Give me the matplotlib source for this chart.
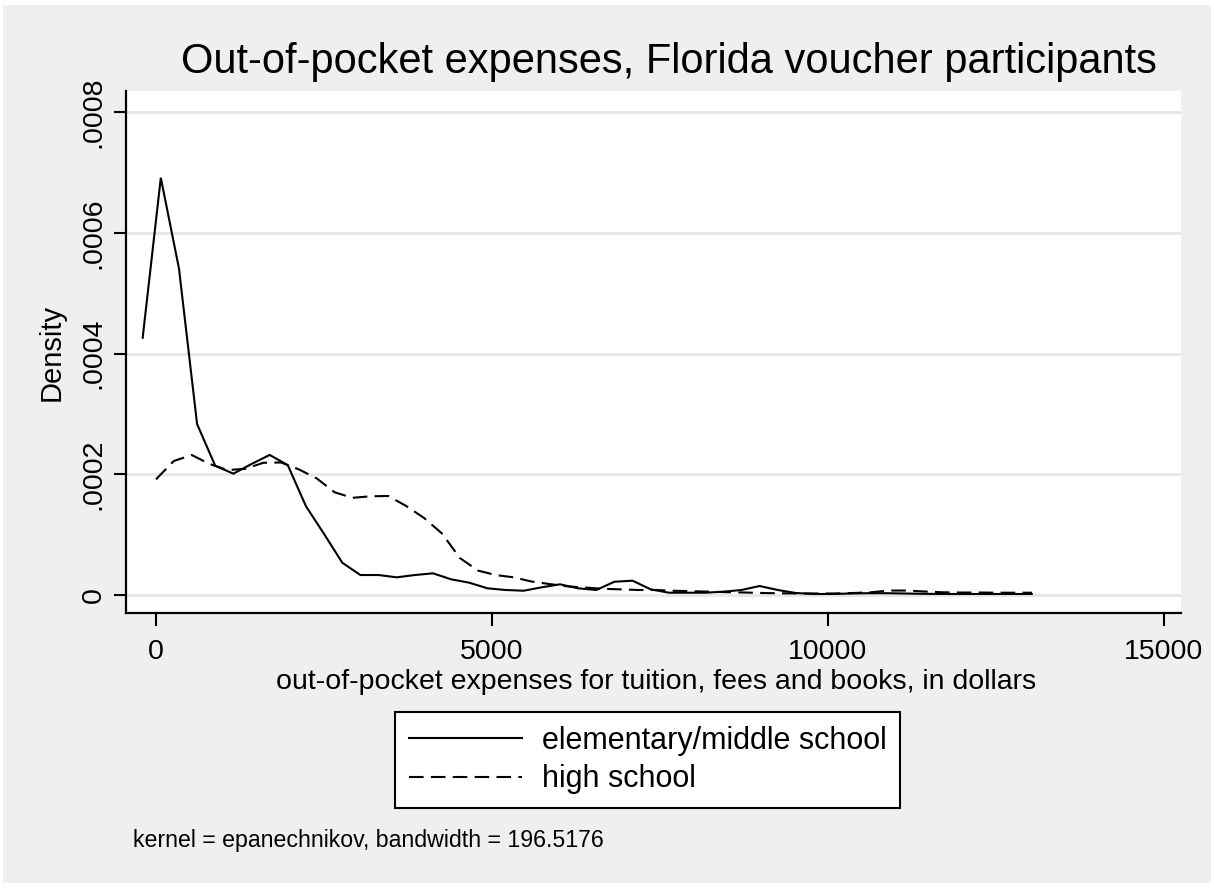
import matplotlib
matplotlib.use('Agg')
import matplotlib.pyplot as plt
from matplotlib.patches import Rectangle

plt.rcParams['font.family'] = ['Liberation Sans', 'DejaVu Sans']

# ---------------- data ----------------
elem_x = [-198, 72, 342, 612, 882, 1152, 1422, 1692, 1962, 2232,
          2502, 2772, 3042, 3312, 3582, 3852, 4122, 4392, 4662, 4932,
          5202, 5472, 5742, 6012, 6282, 6552, 6822, 7092, 7362, 7632,
          7902, 8172, 8442, 8712, 8982, 9252, 9522, 9792, 10062, 10332,
          10602, 10872, 11142, 11412, 11682, 11952, 12222, 12492, 12762, 13032]
elem_y = [4.26e-4, 6.91e-4, 5.41e-4, 2.83e-4, 2.14e-4, 2.01e-4, 2.17e-4, 2.32e-4, 2.15e-4, 1.47e-4,
          1.01e-4, 5.35e-5, 3.31e-5, 3.31e-5, 2.93e-5, 3.31e-5, 3.59e-5, 2.60e-5, 2.04e-5, 1.11e-5,
          8.3e-6, 7.1e-6, 1.28e-5, 1.77e-5, 1.11e-5, 8.3e-6, 2.20e-5, 2.37e-5, 9.4e-6, 3.8e-6,
          3.8e-6, 3.8e-6, 5.5e-6, 8.3e-6, 1.49e-5, 8.3e-6, 3.3e-6, 1.7e-6, 1.7e-6, 2.5e-6,
          3.0e-6, 3.0e-6, 2.5e-6, 2.0e-6, 1.7e-6, 1.7e-6, 1.7e-6, 1.7e-6, 1.7e-6, 1.7e-6]

high_x = [0, 266, 532, 798, 1064, 1330, 1596, 1862, 2128, 2394,
          2660, 2926, 3192, 3458, 3724, 3990, 4256, 4522, 4788, 5054,
          5320, 5586, 5852, 6118, 6384, 6650, 6916, 7182, 7448, 7714,
          7980, 8246, 8512, 8778, 9044, 9310, 9576, 9842, 10108, 10374,
          10640, 10906, 11172, 11438, 11704, 11970, 12236, 12502, 12768, 13034]
high_y = [1.916e-4, 2.22e-4, 2.319e-4, 2.17e-4, 2.07e-4, 2.09e-4, 2.19e-4, 2.195e-4, 2.08e-4, 1.93e-4,
          1.70e-4, 1.61e-4, 1.635e-4, 1.64e-4, 1.474e-4, 1.275e-4, 1.019e-4, 6.13e-5, 4.06e-5, 3.31e-5,
          2.93e-5, 2.24e-5, 1.82e-5, 1.44e-5, 1.24e-5, 1.03e-5, 9.3e-6, 8.3e-6, 8.3e-6, 7.0e-6,
          6.3e-6, 5.5e-6, 4.6e-6, 4.1e-6, 3.3e-6, 2.8e-6, 2.5e-6, 2.5e-6, 2.5e-6, 3.3e-6,
          4.5e-6, 7.4e-6, 7.4e-6, 5.8e-6, 4.5e-6, 4.1e-6, 4.1e-6, 3.8e-6, 3.8e-6, 3.8e-6]

series_labels = ['elementary/middle school', 'high school']
x_ticks = [0, 5000, 10000, 15000]
x_tick_labels = ['0', '5000', '10000', '15000']
y_ticks = [0, 0.0002, 0.0004, 0.0006, 0.0008]
y_tick_labels = ['0', '.0002', '.0004', '.0006', '.0008']

title = 'Out-of-pocket expenses, Florida voucher participants'
x_label = 'out-of-pocket expenses for tuition, fees and books, in dollars'
y_label = 'Density'
note = 'kernel = epanechnikov, bandwidth = 196.5176'

# ---------------- figure ----------------
W, H = 1214, 888
fig = plt.figure(figsize=(W / 100, H / 100), dpi=100, facecolor='white')
bg = '#efefef'
fig.patches.append(Rectangle((3 / W, 5 / H), 1 - 6 / W, 1 - 10 / H,
                             transform=fig.transFigure, facecolor=bg,
                             edgecolor='none', zorder=-10))

left, right, top, bottom = 126, 1181, 91, 613
ax = fig.add_axes([left / W, 1 - bottom / H, (right - left) / W, (bottom - top) / H])
ax.set_facecolor('white')

ax.set_xlim(-446, 15253)
ax.set_ylim(-2.98e-5, 8.348e-4)

for yt in y_ticks:
    ax.axhline(yt, color='#e6e6e6', lw=2.0, zorder=1)

lw = 1.5
ax.plot(elem_x, elem_y, color='black', lw=lw, solid_joinstyle='miter', zorder=3,
        label=series_labels[0])
ax.plot(high_x, high_y, color='black', lw=lw, dashes=(7, 3.5), zorder=3,
        label=series_labels[1])

for s in ['top', 'right']:
    ax.spines[s].set_visible(False)
for s in ['left', 'bottom']:
    ax.spines[s].set_linewidth(1.6)
    ax.spines[s].set_color('black')

ax.set_xticks(x_ticks)
ax.set_xticklabels(x_tick_labels)
ax.set_yticks(y_ticks)
ax.set_yticklabels(y_tick_labels, rotation=90, va='center')
ax.tick_params(axis='both', direction='out', length=9, width=1.5, labelsize=20.5)
ax.tick_params(axis='x', pad=10)
ax.tick_params(axis='y', pad=5)

pw, ph = right - left, bottom - top
ax.set_xlabel(x_label, fontsize=20.5, va='center', ha='center')
ax.xaxis.set_label_coords(0.5 * (273 + 1040) / 1 / pw - left / pw, (bottom - 682) / ph)
ax.set_ylabel(y_label, fontsize=21, va='center', ha='center')
ax.yaxis.set_label_coords((52 - left) / pw, 0.5)

fig.text(669 / W, 1 - 62 / H, title, ha='center', va='center', fontsize=30)

leg = ax.legend(loc='upper left', bbox_to_anchor=(395 / W, 1 - 712 / H),
                bbox_transform=fig.transFigure, fontsize=22, frameon=True,
                fancybox=False, edgecolor='black', facecolor='white', framealpha=1,
                handlelength=3.7, handletextpad=0.65, labelspacing=0.28,
                borderpad=0.45, borderaxespad=0)
leg.get_frame().set_linewidth(1.5)

fig.text(133 / W, 1 - 840 / H, note, ha='left', va='center', fontsize=16.7)

fig.savefig('out.png', dpi=100, facecolor=fig.get_facecolor())
